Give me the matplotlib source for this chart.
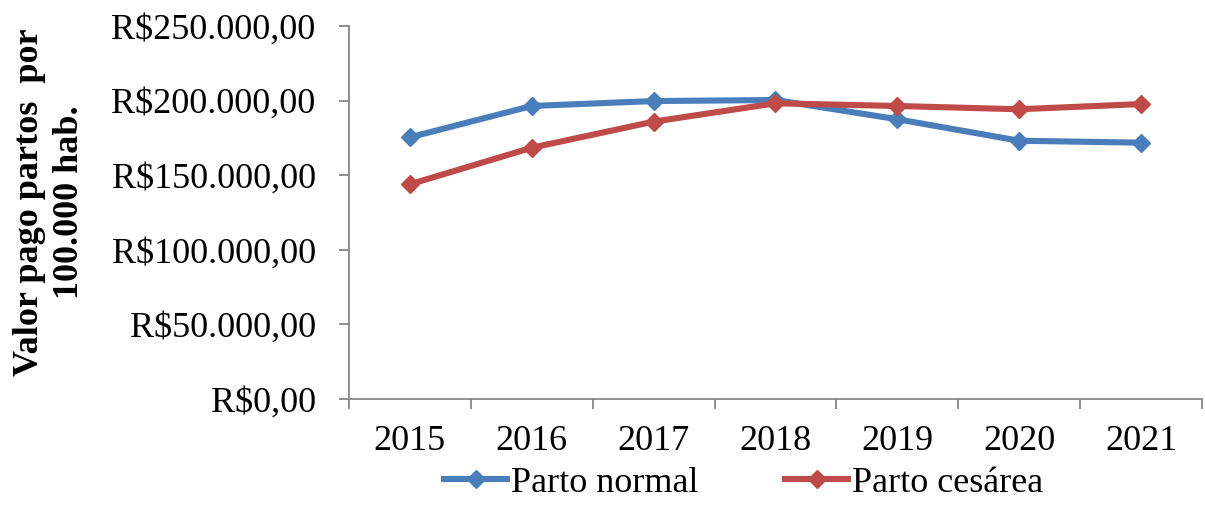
import matplotlib
matplotlib.use("Agg")
import matplotlib.pyplot as plt
from matplotlib.ticker import FuncFormatter, FixedLocator

years = ["2015", "2016", "2017", "2018", "2019", "2020", "2021"]
parto_normal = [175400, 196400, 199700, 200400, 187500, 173100, 171800]
parto_cesarea = [143900, 168400, 185900, 198200, 196400, 194200, 197700]

plt.rcParams["font.family"] = ["Liberation Serif", "DejaVu Serif"]

fig = plt.figure(figsize=(12.05, 5.05), dpi=100)
ax = fig.add_axes([0.2896, 0.2099, 0.7079, 0.7386])

x = list(range(len(years)))
ax.plot(x, parto_normal, color="#4A7EBB", lw=4.4, marker="D", ms=9,
        label="Parto normal", solid_joinstyle="round")
ax.plot(x, parto_cesarea, color="#BE4B48", lw=4.4, marker="D", ms=9,
        label="Parto cesárea", solid_joinstyle="round")

ax.set_xlim(-0.5, len(years) - 0.5)
ax.set_ylim(0, 250000)
ax.set_yticks(range(0, 250001, 50000))


def brl(v, pos):
    s = f"{int(v):,}".replace(",", ".")
    return f"R${s},00"


ax.yaxis.set_major_formatter(FuncFormatter(brl))
ax.set_xticks(x)
ax.set_xticklabels(years)
ax.xaxis.set_major_locator(FixedLocator(x))
ax.set_xticks([i - 0.5 for i in range(len(years) + 1)], minor=True)
ax.tick_params(axis="x", which="major", length=0, labelsize=26, pad=19)
ax.tick_params(axis="x", which="minor", length=7, width=1.3, color="#868686")
ax.tick_params(axis="y", length=7, width=1.3, color="#868686", labelsize=26, pad=17)

for side in ("top", "right"):
    ax.spines[side].set_visible(False)
for side in ("left", "bottom"):
    ax.spines[side].set_color("#868686")
    ax.spines[side].set_linewidth(1.3)

fig.text(0.041, 0.6, "Valor pago partos  por\n100.000 hab.", rotation=90,
         ha="center", va="center", fontsize=26, fontweight="bold",
         linespacing=1.3, multialignment="center")

leg = fig.legend(loc="center", bbox_to_anchor=(0.617, 0.043), ncol=2, frameon=False,
                 fontsize=26, handlelength=1.75, handletextpad=0.1, columnspacing=2.4,
                 borderpad=0)

fig.savefig("out.png", dpi=100)
